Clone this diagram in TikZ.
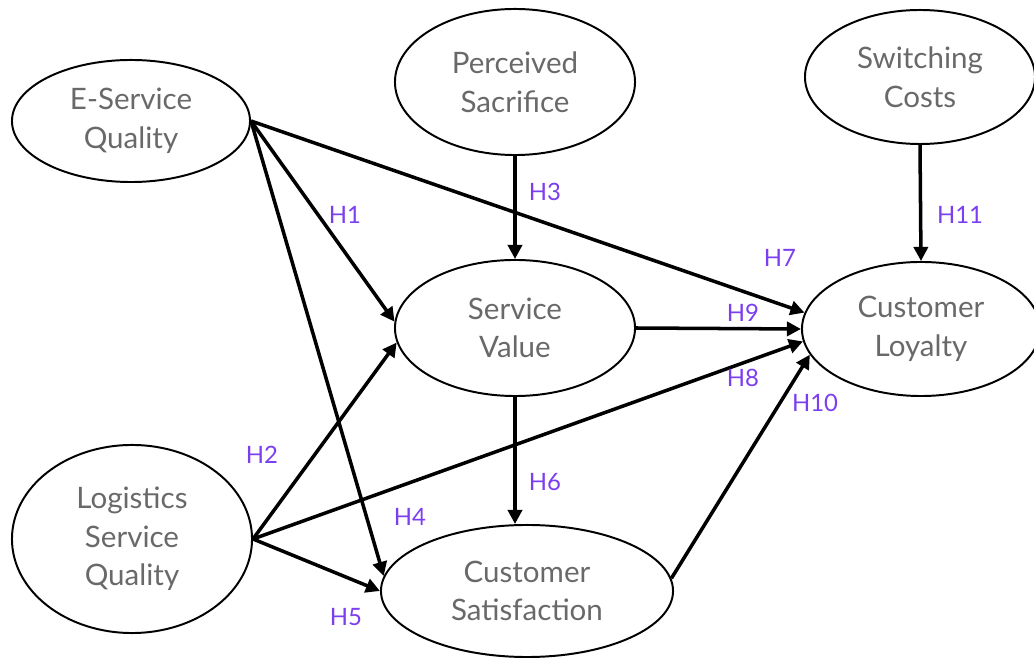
\documentclass[tikz,border=0pt]{standalone}
\usepackage{fontspec}
\setmainfont{Lato}
\usetikzlibrary{shapes.geometric,arrows.meta}
\definecolor{hyppurple}{RGB}{123,62,240}
\definecolor{constructgray}{RGB}{105,105,105}
\begin{document}
\begin{tikzpicture}[x=0.025cm,y=-0.025cm,
  construct/.style={ellipse,draw,line width=1.4pt,inner sep=0pt,align=center,
    text=constructgray,font=\fontsize{21}{27.5}\selectfont},
  effect/.style={line width=2.5pt,-{Triangle[length=10pt,width=10pt]}},
  hyp/.style={text=hyppurple,font=\fontsize{17}{20}\selectfont,inner sep=0pt}]
\useasboundingbox (0,0) rectangle (1034,661);

% constructs of the structural model
\node[construct,minimum width=5.95cm,minimum height=3.05cm] (esq) at (131,121) {E-Service\\Quality};
\node[construct,minimum width=6.0cm,minimum height=3.65cm] (ps) at (515,82) {Perceived\\Sacrifice};
\node[construct,minimum width=5.75cm,minimum height=3.35cm] (sc) at (920,77) {Switching\\Costs};
\node[construct,minimum width=6.0cm,minimum height=3.4cm] (sv) at (515,328) {Service\\Value};
\node[construct,minimum width=5.95cm,minimum height=3.35cm] (cl) at (921,329) {Customer\\Loyalty};
\node[construct,minimum width=6.0cm,minimum height=4.7cm] (lsq) at (132,539) {Logistics\\Service\\Quality};
\node[construct,minimum width=7.3cm,minimum height=3.3cm] (cs) at (527,591) {Customer\\Satisfaction};

% hypothesised paths
\draw[effect] (esq.east) -- (sv.177);
\draw[effect] (esq.east) -- (cs.174);
\draw[effect] (esq.east) -- (cl.172);
\draw[effect] (ps.south) -- (sv.north);
\draw[effect] (sc.south) -- (cl.north);
\draw[effect] (sv.east) -- (cl.west);
\draw[effect] (sv.south) -- (sv.south |- cs.north);
\draw[effect] (lsq.east) -- (sv.187);
\draw[effect] (lsq.east) -- (cs.180);
\draw[effect] (lsq.east) -- (cl.186);
\draw[effect] (cs.5) -- (cl.193);

% hypothesis labels
\node[hyp] (h1) at (345,215) {H1};
\node[hyp] (h2) at (262,455) {H2};
\node[hyp] (h3) at (545,192) {H3};
\node[hyp] (h4) at (410,517) {H4};
\node[hyp] (h5) at (346,617) {H5};
\node[hyp] (h6) at (545,482) {H6};
\node[hyp] (h7) at (780,258) {H7};
\node[hyp] (h8) at (743,378) {H8};
\node[hyp] (h9) at (743,313) {H9};
\node[hyp] (h10) at (815,403) {H10};
\node[hyp] (h11) at (960,215) {H11};
\end{tikzpicture}
\end{document}
